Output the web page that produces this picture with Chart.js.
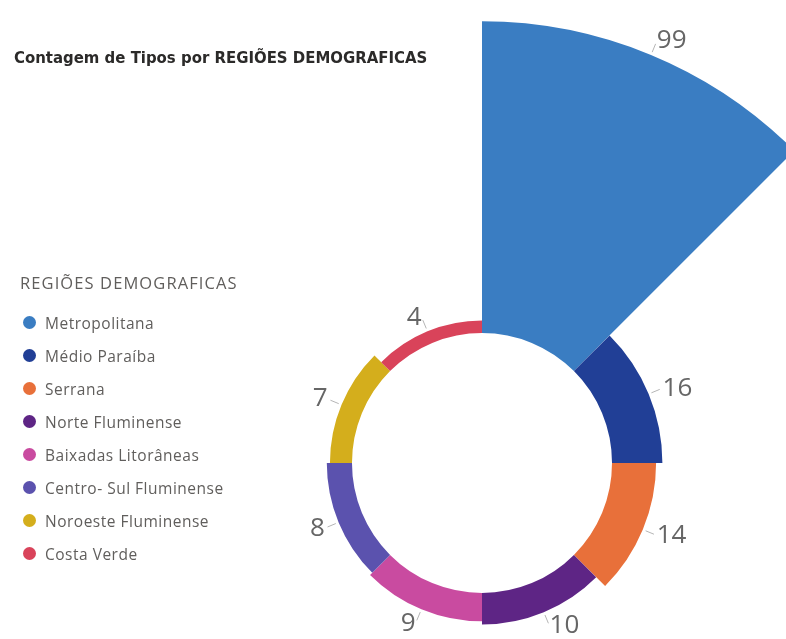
<!DOCTYPE html>
<html lang="pt-BR">
<head>
<meta charset="utf-8">
<title>Contagem de Tipos por REGIÕES DEMOGRAFICAS</title>
<script src="https://cdn.jsdelivr.net/npm/chart.js@4.4.1/dist/chart.umd.min.js"></script>
<style>
  html, body { margin: 0; padding: 0; background: #fff; }
  #painel { position: relative; width: 786px; height: 639px; overflow: hidden; }
  #grafico { position: absolute; left: 0; top: 0; }
  #titulo {
    position: absolute; left: 14px; top: 48px;
    font-family: "DejaVu Sans Condensed", "Liberation Sans Narrow", sans-serif;
    font-weight: bold; font-size: 16.6px; color: #2B2A29; white-space: nowrap;
  }
  #legenda {
    position: absolute; left: 20px; top: 271px;
    font-family: "Open Sans", sans-serif; color: #605E5C;
  }
  #legenda .cab { font-size: 16.5px; margin-bottom: 12px; letter-spacing: 1.1px; }
  #legenda .item { display: flex; align-items: center; height: 33px; font-size: 15.5px; letter-spacing: 0.5px; }
  #legenda .bola { width: 13px; height: 13px; border-radius: 50%; margin: 0 9px 0 3px; }
</style>
</head>
<body>
<div id="painel">
  <canvas id="grafico" width="786" height="639"></canvas>
  <div id="titulo">Contagem de Tipos por REGIÕES DEMOGRAFICAS</div>
  <div id="legenda"></div>
</div>
<script>
// Regiões e contagem de tipos
const regioes = ['Metropolitana', 'Médio Paraíba', 'Serrana', 'Norte Fluminense',
  'Baixadas Litorâneas', 'Centro- Sul Fluminense', 'Noroeste Fluminense', 'Costa Verde'];
const contagens = [99, 16, 14, 10, 9, 8, 7, 4];
const cores = ['#3A7DC2', '#213F96', '#E8703A', '#5E2585', '#C94BA0', '#5B52AE', '#D4AE1C', '#D9435A'];

// Legenda em HTML
const legenda = document.getElementById('legenda');
legenda.innerHTML = '<div class="cab">REGIÕES DEMOGRAFICAS</div>' +
  regioes.map((r, i) => `<div class="item"><span class="bola" style="background:${cores[i]}"></span>${r}</div>`).join('');

// Abre o buraco do meio: o valor 0 da escala vira o raio interno
const furo = {
  id: 'furo',
  afterDatasetsUpdate(chart) {
    const escala = chart.scales.r;
    const raioInterno = escala.getDistanceFromCenterForValue(0);
    chart.getDatasetMeta(0).data.forEach(arco => { arco.innerRadius = raioInterno; });
  }
};

// Rótulos de valor com linha guia
const rotulos = {
  id: 'rotulos',
  afterDatasetsDraw(chart) {
    const ctx = chart.ctx;
    const valores = chart.data.datasets[0].data;
    ctx.save();
    ctx.font = '26px "Open Sans", sans-serif';
    ctx.fillStyle = '#666666';
    ctx.strokeStyle = '#B5B5B5';
    ctx.lineWidth = 1;
    ctx.textBaseline = 'middle';
    chart.getDatasetMeta(0).data.forEach((arco, i) => {
      const meio = (arco.startAngle + arco.endAngle) / 2;
      const cx = Math.cos(meio), cy = Math.sin(meio);
      const r = arco.outerRadius;
      ctx.beginPath();
      ctx.moveTo(arco.x + cx * (r + 3), arco.y + cy * (r + 3));
      ctx.lineTo(arco.x + cx * (r + 12), arco.y + cy * (r + 12));
      ctx.stroke();
      const tx = arco.x + cx * (r + 15), ty = arco.y + cy * (r + 15);
      ctx.textAlign = cx >= 0 ? 'left' : 'right';
      ctx.fillText(String(valores[i]), tx, ty);
    });
    ctx.restore();
  }
};

new Chart(document.getElementById('grafico'), {
  type: 'polarArea',
  data: {
    labels: regioes,
    datasets: [{
      data: contagens,
      backgroundColor: cores,
      borderWidth: 0,
      clip: false
    }]
  },
  options: {
    responsive: false,
    animation: false,
    layout: { padding: { left: 312, right: 134, top: 293, bottom: 6 } },
    scales: {
      r: { display: false, min: -41.3, max: 12.7 }
    },
    plugins: {
      legend: { display: false },
      tooltip: { enabled: false }
    }
  },
  plugins: [furo, rotulos]
});
</script>
</body>
</html>
